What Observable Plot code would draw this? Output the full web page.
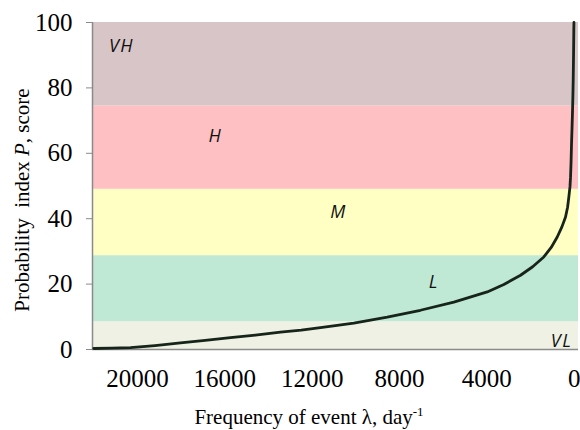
<!DOCTYPE html>
<html><head><meta charset="utf-8">
<script src="https://cdn.jsdelivr.net/npm/d3@7"></script>
<script src="https://cdn.jsdelivr.net/npm/@observablehq/plot@0.6"></script>
<style>html,body{margin:0;padding:0;background:#fff} #chart svg{display:block}</style>
</head><body><div id="chart"></div>
<script>
// Curve: frequency of event λ (day^-1) vs probability index P (score)
const lambda = [22000, 21200, 20320, 19200, 18030, 16900, 15740, 14600, 13450, 12500, 11620, 10090, 8560, 7040, 5510, 3980, 3220, 2455, 1900, 1390, 1050, 774, 560, 394, 300, 243, 190, 165, 140, 119, 95, 73, 55, 41, 25, 14, 8];
const score  = [0.3, 0.4, 0.6, 1.2, 2.0, 2.8, 3.6, 4.4, 5.3, 5.9, 6.7, 8.1, 9.9, 12.0, 14.5, 17.6, 19.9, 22.7, 25.3, 28.3, 31.2, 34.4, 37.5, 40.5, 43.5, 46.6, 49.8, 52.7, 57.5, 63, 68, 73, 78, 83, 91, 98, 100];

// Risk bands
const bandNames  = ["VL", "L", "M", "H", "VH"];
const bandLow    = [0, 8.5, 28.7, 49, 74.5];
const bandHigh   = [8.5, 28.7, 49, 74.5, 100];
const bandColors = ["#eef1e3", "#bfe9d4", "#ffffc4", "#ffc0c3", "#d7c5c7"];
const labelLambda = [577, 6430, 10790, 16430, 20730];
const labelScore  = [2.5, 20.7, 42.1, 65.3, 92.7];

// Ticks
const xTicks = [20000, 16000, 12000, 8000, 4000, 0];
const yTicks = [0, 20, 40, 60, 80, 100];

const curve = lambda.map((l, i) => ({lambda: l, score: score[i]}));
const bands = bandNames.map((n, i) => ({name: n, lo: bandLow[i], hi: bandHigh[i], color: bandColors[i], lx: labelLambda[i], ly: labelScore[i]}));

const xDomain = [22060, -200];
const serif = "Liberation Serif";

const plot = Plot.plot({
  width: 580, height: 430,
  marginLeft: 92, marginRight: 2, marginTop: 22, marginBottom: 81,
  style: {background: "#fff", color: "#000", overflow: "visible"},
  x: {domain: xDomain},
  y: {domain: [0, 100]},
  color: {type: "identity"},
  marks: [
    Plot.rect(bands, {y1: "lo", y2: "hi", fill: "color"}),
    Plot.ruleY([0], {stroke: "#8a8a8a", strokeWidth: 1.5}),
    Plot.ruleX([xDomain[0]], {stroke: "#8a8a8a", strokeWidth: 1.5}),
    Plot.axisX({ticks: xTicks, tickSize: 0, tickPadding: 20, tickFormat: d => String(d), label: null, fill: "#000", fontFamily: serif, fontSize: 25}),
    Plot.axisY({ticks: yTicks, tickSize: 6, tickPadding: 14, tickFormat: d => String(d), label: null, stroke: "#8a8a8a", fill: "#000", fontFamily: serif, fontSize: 25}),
    Plot.line(curve, {x: "lambda", y: "score", stroke: "#17241a", strokeWidth: 2.8}),
    Plot.text(bands, {x: "lx", y: "ly", text: "name", fontFamily: "Open Sans", fontStyle: "italic", fontSize: 18, fill: "#111", textAnchor: "middle"})
  ]
});

const svg = d3.select(plot);
svg.selectAll('g[aria-label="text"] text').style("letter-spacing", "1.5px");

const yl = svg.append("text")
  .attr("transform", "translate(29,200) rotate(-90)")
  .attr("text-anchor", "middle")
  .attr("font-family", serif)
  .attr("font-size", 21)
  .attr("fill", "#000")
  .style("white-space", "pre");
yl.append("tspan").text("Probability  index ");
yl.append("tspan").attr("font-style", "italic").text("P");
yl.append("tspan").text(", score");

const xl = svg.append("text")
  .attr("x", 309).attr("y", 424)
  .attr("text-anchor", "middle")
  .attr("font-family", serif)
  .attr("font-size", 21)
  .attr("fill", "#000");
xl.append("tspan").text("Frequency of event λ, day");
xl.append("tspan").attr("font-size", 13).attr("dy", -8).text("-1");

document.getElementById("chart").appendChild(plot);
</script>
</body></html>
